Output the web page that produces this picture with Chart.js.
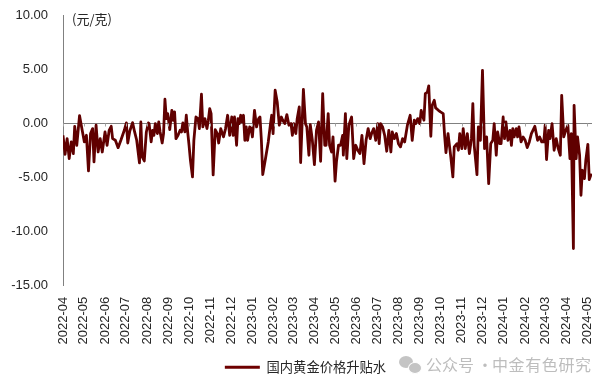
<!DOCTYPE html>
<html><head><meta charset="utf-8">
<style>
html,body{margin:0;padding:0;background:#fff;width:611px;height:388px;overflow:hidden}
#wrap{position:relative;width:611px;height:388px}
#wm{position:absolute;left:426px;top:354px;width:170px;height:20px;font:16px/20px "Noto Sans CJK SC",sans-serif;color:#bdbdbd;white-space:nowrap}
#wm span{position:absolute;top:0}
.b{position:absolute;background:#c4c4c4;border-radius:50%}
</style>
<script src="https://cdn.jsdelivr.net/npm/chart.js@4"></script>
</head><body><div id="wrap"><canvas id="c" width="611" height="388"></canvas>
<div class="b" style="left:399px;top:356px;width:14px;height:12px"></div>
<div class="b" style="left:408px;top:362px;width:12px;height:10px;border:1px solid #fff"></div>
<div id="wm"><span style="left:0">公众号</span><span style="left:51px">·</span><span style="left:66px;letter-spacing:.6px">中金有色研究</span></div></div>
<script>
const seriesName = '国内黄金价格升贴水';
const unitLabel = '(元/克)';
const startDate = '2022-04-01';
const monthLabels = ['2022-04','2022-05','2022-06','2022-07','2022-08','2022-09','2022-10','2022-11','2022-12','2023-01','2023-02','2023-03','2023-04','2023-05','2023-06','2023-07','2023-08','2023-09','2023-10','2023-11','2023-12','2024-01','2024-02','2024-03','2024-04','2024-05'];
const yTicks = [10,5,0,-5,-10,-15];
const dayOffsets = [0,3,6,9,12,15,17,20,24,27,31,34,37,40,43,45,48,51,54,57,61,64,67,70,72,76,80,84,89,92,94,97,101,104,107,111,113,115,118,121,124,
125,128,130,132,134,137,139,141,144,146,148,150,152,155,158,160,162,164,167,170,172,174,177,179,181,183,185,188,190,193,196,198,201,203,206,209,211,213,215,218,221,224,226,229,233,236,239,242,245,247,249,252,254,256,
258,260,262,264,266,268,271,273,275,278,281,284,286,288,290,294,298,301,303,305,308,311,314,317,319,322,325,328,331,333,335,338,340,343,345,349,352,354,357,359,362,365,368,371,374,377,380,382,385,387,
390,392,395,397,400,403,406,407,410,412,415,419,422,425,428,431,434,437,440,443,446,448,451,454,457,459,461,464,467,470,473,476,478,481,484,487,490,493,496,500,504,507,510,512,515,518,
520,522,524,526,529,531,534,536,539,541,545,548,552,554,556,559,560,563,566,568,572,574,576,579,581,584,587,590,593,595,597,601,603,606,609,612,615,618,621,624,626,629,631,634,636,639,641,643,646,649,
651,653,655,658,660,662,665,668,671,674,677,680,685,689,692,695,698,700,702,705,707,710,713,716,719,722,724,727,730,733,736,738,741,742,745,747,750,752,754,757,759,762,764,767];
const premium = [-1.11,-2.86,-1.42,-3.26,-1.72,-2.80,-0.28,-2.03,0.71,-0.34,-1.72,-1.11,-4.40,-0.95,-0.49,-3.57,-0.18,-2.65,-1.42,-2.65,-0.80,-2.03,-0.65,-0.28,-1.42,-1.57,-2.25,-1.57,-0.65,0.03,-1.82,-0.71,0.06,-0.80,-1.57,-3.66,0.12,-3.11,-3.48,-0.80,0.03,
-0.03,-1.72,-0.65,-1.11,-0.03,-0.95,0.12,-0.80,-1.82,-0.95,2.22,0.43,0.89,-0.58,1.20,0.28,1.05,-1.42,-1.11,-0.65,-0.80,0.03,-0.80,0.74,-0.80,-2.03,-3.42,-4.95,-1.57,0.58,0.43,-0.49,2.68,-0.34,0.43,-0.49,0.28,1.35,0.89,-4.77,-0.58,-0.95,-1.82,-0.49,-1.26,-0.49,0.74,-1.11,0.58,-1.11,0.58,-2.03,0.43,-0.03,
0.74,0.12,0.74,-1.57,-0.34,-1.57,-0.34,-0.49,-1.26,1.20,-0.34,0.43,0.58,-1.57,-4.74,-3.26,-1.72,-0.18,0.74,-0.95,3.05,1.97,-0.18,0.58,0.28,-0.03,0.80,-0.18,-0.03,-1.11,-0.03,-0.95,0.43,1.51,-3.63,3.14,-0.03,-0.34,-2.95,-0.12,-1.57,-3.82,-0.65,0.12,-3.51,2.74,-2.03,-2.03,0.89,-2.03,
-2.65,-1.26,-5.35,-3.57,-2.03,-2.03,-1.11,-2.95,0.89,-3.26,-0.18,0.58,-3.26,-2.03,-2.49,-2.80,-1.11,-3.72,-1.57,-0.49,-1.42,-0.95,-0.49,-1.57,-0.03,-1.88,-0.03,-0.34,-1.11,-2.58,-0.65,-2.65,-0.80,-1.42,-0.95,-1.88,-2.18,-1.42,-1.72,-0.18,0.74,-1.57,0.28,-0.03,0.43,-0.03,
1.20,0.74,0.28,2.74,2.89,3.45,-1.20,1.66,2.12,1.42,1.20,1.05,0.89,-1.11,-2.71,-0.95,-0.95,-3.11,-4.95,-2.18,-1.88,-2.49,-0.95,-2.34,-0.49,-2.34,-0.95,-2.80,-1.42,1.82,-2.03,-4.74,-0.34,-1.57,4.89,-2.34,-1.26,-5.57,-1.88,-1.57,-0.03,-2.95,-0.80,-1.88,-1.88,0.58,-1.42,0.12,-1.57,-0.65,
-2.03,-0.49,-1.26,-0.49,-1.26,-0.34,-1.72,-1.26,-1.57,-2.25,-1.72,-0.95,-0.28,-1.57,-1.26,-1.72,-1.72,-0.18,-3.35,-0.65,-1.42,-0.03,-2.49,-1.42,-2.34,-2.95,2.58,-1.26,-0.65,-0.18,-3.26,-0.95,-11.57,1.66,-3.26,-1.26,-2.95,-6.65,-4.34,-5.11,-3.42,-1.94,-5.20,-4.65];

const lineColor = '#600000', axisColor = '#808080', textColor = '#262626';
const dayOf = s => (Date.parse(s + (s.length===7?'-01':'') + 'T00:00:00Z') - Date.parse(startDate+'T00:00:00Z'))/86400000;
const tickDays = monthLabels.map(dayOf);
const overlay = {
  id:'overlay',
  afterDraw(ch){
    const c=ch.ctx, x=ch.scales.x, y=ch.scales.y, y0=Math.round(y.getPixelForValue(0))+0.5;
    c.save();
    c.strokeStyle='#a6a6a6'; c.lineWidth=1;
    tickDays.forEach(d=>{const px=Math.round(x.getPixelForValue(d))+0.5;c.beginPath();c.moveTo(px,y0);c.lineTo(px,y0+3);c.stroke();});
    c.fillStyle=textColor; c.font='13px "Noto Sans CJK SC","Liberation Sans",sans-serif'; c.textBaseline='middle';
    c.fillText(unitLabel,72,19);
    c.restore();
  }
};
new Chart(document.getElementById('c'),{
  type:'line',
  data:{datasets:[{label:seriesName,data:dayOffsets.map((d,i)=>({x:d,y:premium[i]})),borderColor:lineColor,backgroundColor:'#6e0000',borderWidth:2.8,pointRadius:0,tension:0,borderJoinStyle:'round'}]},
  plugins:[overlay],
  options:{
    responsive:false,animation:false,parsing:false,
    layout:{padding:{left:0,right:0,top:15,bottom:4}},
    plugins:{
      tooltip:{enabled:false},
      legend:{position:'bottom',labels:{boxWidth:35,boxHeight:3,padding:15,color:textColor,font:{family:'"Noto Sans CJK SC","Liberation Sans",sans-serif',size:13.3},
        generateLabels:ch=>Chart.defaults.plugins.legend.labels.generateLabels(ch).map(l=>({...l,lineWidth:0}))}}
    },
    scales:{
      x:{type:'linear',min:0,max:768,
        afterBuildTicks(s){s.ticks=tickDays.map(v=>({value:v}));},
        afterFit(s){s.height=60;s.paddingLeft=0;s.paddingRight=19;},
        grid:{display:false},border:{display:false},
        ticks:{autoSkip:false,minRotation:90,maxRotation:90,padding:3,color:textColor,font:{family:'"Liberation Sans"',size:13},
          callback(v){const i=tickDays.indexOf(v);return i>=0?monthLabels[i]:'';}}
      },
      y:{min:-15,max:10,
        afterBuildTicks(s){s.ticks=yTicks.map(v=>({value:v}));},
        afterFit(s){s.width=63;s.paddingTop=0;s.paddingBottom=0;},
        border:{display:true,color:axisColor,width:1},
        grid:{drawTicks:false,color:c=>c.tick&&c.tick.value===0?axisColor:'rgba(0,0,0,0)',lineWidth:1},
        ticks:{padding:15,color:textColor,font:{family:'"Liberation Sans"',size:13},callback:v=>v.toFixed(2)}
      }
    }
  }
});
</script></body></html>
